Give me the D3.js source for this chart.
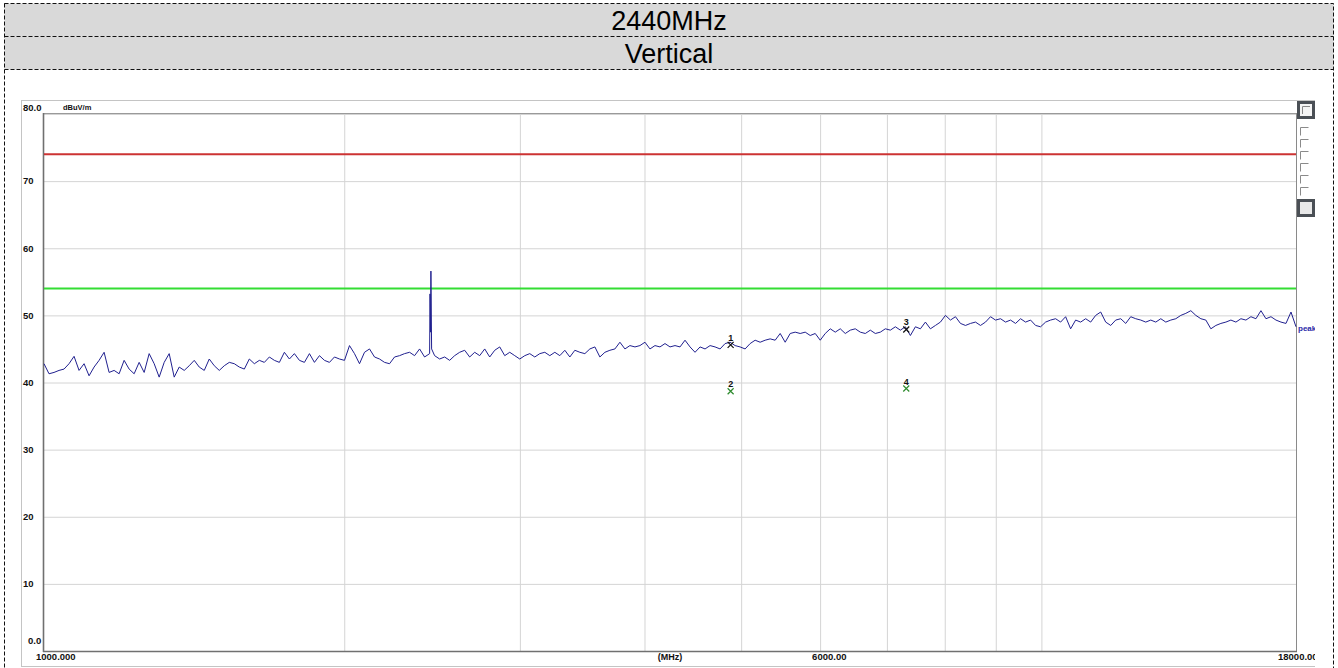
<!DOCTYPE html>
<html>
<head>
<meta charset="utf-8">
<script src="https://cdn.jsdelivr.net/npm/d3@7"></script>
<style>
  body { margin: 0; background: #fff; }
  text { font-family: "Liberation Sans", Arial, sans-serif; }
</style>
</head>
<body>
<svg id="chart" width="1338" height="668"></svg>
<script>
// ---- data ----
const titleRows = ['2440MHz', 'Vertical']
const yUnit = 'dBuV/m'
const xUnit = '(MHz)'
const yTickValues = [80, 70, 60, 50, 40, 30, 20, 10, 0]
const yTickLabels = ['80.0', '70', '60', '50', '40', '30', '20', '10', '0.0']
const xGridValues = [2000, 3000, 4000, 5000, 6000, 7000, 8000, 9000, 10000]
const xTickValues = [1000, 6000, 18000]
const xTickLabels = ['1000.000', '6000.00', '18000.00']
const limitNames = ['limit', 'average']
const limitLevels = [74, 54]
const traceName = 'peak'
// trace levels (dBuV/m), read at evenly spaced points along the log axis 1000 -> 18000 MHz
const traceLevels = [
  42.8, 41.3, 41.5, 41.8, 42.0, 42.8, 43.9, 41.8, 42.8, 41.0,
  42.3, 43.3, 44.5, 41.5, 41.8, 41.3, 43.3, 42.0, 41.3, 43.0,
  41.5, 44.3, 42.8, 40.8, 43.0, 44.3, 40.8, 42.3, 41.8, 42.5,
  43.3, 42.3, 41.8, 43.5, 42.5, 41.8, 42.5, 43.0, 42.8, 42.3,
  42.0, 43.5, 42.8, 43.3, 43.0, 43.8, 43.3, 43.0, 44.5, 43.5,
  44.3, 43.3, 43.0, 44.3, 43.0, 44.0, 43.3, 43.0, 43.8, 43.5,
  43.3, 45.5, 44.3, 42.8, 44.5, 45.0, 43.8, 43.5, 43.0, 42.8,
  43.8, 44.0, 44.3, 44.5, 44.0, 45.0, 43.8, 44.3, 44.0, 43.5,
  43.8, 43.3, 44.0, 44.5, 44.8, 43.8, 44.5, 44.0, 45.0, 43.8,
  44.8, 45.3, 44.0, 44.5, 44.0, 43.5, 44.0, 44.3, 43.8, 44.3,
  44.5, 44.0, 44.5, 44.0, 44.8, 43.8, 44.8, 44.5, 44.3, 45.0,
  45.3, 43.8, 44.5, 44.8, 45.0, 46.0, 45.0, 45.5, 45.3, 45.5,
  46.0, 45.0, 45.5, 45.3, 45.8, 45.3, 45.5, 45.3, 46.3, 45.3,
  44.5, 45.3, 45.0, 45.5, 45.3, 45.0, 45.8, 46.0, 45.5, 45.3,
  45.0, 45.8, 46.3, 46.0, 46.3, 46.5, 46.3, 47.3, 46.0, 47.3,
  47.5, 47.3, 47.5, 47.0, 47.3, 46.3, 47.3, 48.0, 47.5, 48.0,
  47.3, 47.8, 48.0, 47.5, 47.3, 47.8, 47.3, 47.5, 48.0, 47.8,
  48.3, 47.8, 48.3, 47.0, 48.3, 48.0, 49.0, 48.0, 48.5, 49.0,
  50.0, 49.3, 49.8, 48.8, 48.5, 48.8, 49.0, 48.5, 49.0, 49.8,
  49.3, 49.5, 49.0, 49.3, 48.8, 49.5, 49.0, 49.3, 48.5, 48.3,
  49.0, 49.3, 49.5, 49.0, 49.8, 48.0, 49.3, 49.0, 49.5, 49.0,
  50.0, 50.5, 49.0, 48.5, 49.3, 49.5, 48.8, 49.8, 49.5, 49.3,
  49.0, 49.3, 49.0, 49.5, 49.0, 49.3, 49.5, 50.0, 50.3, 50.7,
  50.0, 49.5, 49.3, 48.0, 48.5, 48.8, 49.0, 49.3, 49.0, 49.5,
  49.3, 49.8, 49.5, 50.7, 49.5, 49.8, 49.3, 49.0, 48.8, 50.5,
  48.3
]
// fundamental spike
const spikeFreqs = [2438, 2441, 2443, 2447]
const spikeLevels = [53.2, 47.5, 56.6, 45.0]
// markers
const markerNums = [1, 2, 3, 4]
const markerFreqs = [4880, 4880, 7320, 7320]
const markerLevels = [45.6, 38.7, 47.9, 39.1]
const markerKinds = ['peak', 'avg', 'peak', 'avg']

// ---- layout ----
const svg = d3.select('#chart')
const plot = { left: 44, right: 1296, top: 114, bottom: 651 }
const boxRight = 1315

const x = d3.scaleLog().domain([1000, 18000]).range([plot.left, plot.right])
const y = d3.scaleLinear().domain([0, 80]).range([plot.bottom, plot.top])

const limitColor = { limit: '#cc3333', average: '#33dd33' }
const markerColor = { peak: '#111', avg: '#2e8b2e' }

// header rows
const rowH = 33
svg.selectAll('.hdr')
  .data(titleRows)
  .join('rect')
  .attr('x', 4.5).attr('y', (d, i) => 3.5 + i * rowH)
  .attr('width', 1329).attr('height', rowH)
  .attr('fill', '#d9d9d9')

svg.selectAll('.hdrText')
  .data(titleRows)
  .join('text')
  .attr('x', 669).attr('y', (d, i) => 3.5 + i * rowH + rowH / 2)
  .attr('dy', '0.36em')
  .attr('text-anchor', 'middle')
  .style('font-size', '27px')
  .style('fill', '#000')
  .text(d => d)

// outer dashed frame
const dash = '4,2'
svg.append('rect')
  .attr('x', 4.5).attr('y', 3.5).attr('width', 1329).attr('height', 680)
  .attr('fill', 'none').attr('stroke', '#111').attr('stroke-dasharray', dash)
titleRows.forEach((d, i) => {
  svg.append('line')
    .attr('x1', 4.5).attr('x2', 1333.5)
    .attr('y1', 3.5 + (i + 1) * rowH).attr('y2', 3.5 + (i + 1) * rowH)
    .attr('stroke', '#111').attr('stroke-dasharray', dash)
})

// picture box
svg.append('defs').append('clipPath').attr('id', 'boxClip')
  .append('rect').attr('x', 21).attr('y', 100).attr('width', boxRight - 21).attr('height', 568)
const box = svg.append('g').attr('clip-path', 'url(#boxClip)')
box.append('rect')
  .attr('x', 21.5).attr('y', 100.5).attr('width', boxRight - 21).attr('height', 566)
  .attr('fill', '#fff').attr('stroke', '#c4c4c4')

// grid
const yGrid = d3.axisLeft(y).tickValues(yTickValues).tickSize(-(plot.right - plot.left)).tickFormat('')
box.append('g')
  .attr('transform', `translate(${plot.left},0)`)
  .call(yGrid)
  .call(g => g.select('.domain').remove())
  .call(g => g.selectAll('.tick line').attr('stroke', '#d4d4d4'))

const xGrid = d3.axisBottom(x).tickValues(xGridValues).tickSize(-(plot.bottom - plot.top)).tickFormat('')
box.append('g')
  .attr('transform', `translate(0,${plot.bottom})`)
  .call(xGrid)
  .call(g => g.select('.domain').remove())
  .call(g => g.selectAll('.tick line').attr('stroke', '#d4d4d4'))

// plot frame
box.append('line').attr('x1', plot.left).attr('x2', plot.right).attr('y1', plot.top - 0.5).attr('y2', plot.top - 0.5)
  .attr('stroke', '#9a9a9a')
box.append('line').attr('x1', plot.right + 0.5).attr('x2', plot.right + 0.5).attr('y1', plot.top - 1).attr('y2', plot.bottom)
  .attr('stroke', '#8a8a8a')
box.append('line').attr('x1', plot.left - 0.5).attr('x2', plot.left - 0.5).attr('y1', plot.top - 1).attr('y2', plot.bottom + 1)
  .attr('stroke', '#707070').attr('stroke-width', 1.6)
box.append('line').attr('x1', plot.left - 1).attr('x2', plot.right + 1).attr('y1', plot.bottom + 0.5).attr('y2', plot.bottom + 0.5)
  .attr('stroke', '#707070').attr('stroke-width', 1.6)

// y labels
box.selectAll('.ylab')
  .data(yTickValues)
  .join('text')
  .attr('x', (d, i) => i === yTickValues.length - 1 ? 28 : 23)
  .attr('y', (d, i) => y(d) + (i === 0 ? -6 : i === yTickValues.length - 1 ? -10 : 0))
  .attr('dy', '0.35em')
  .style('font-size', '9.5px').style('font-weight', 'bold').style('fill', '#111')
  .text((d, i) => yTickLabels[i])

box.append('text')
  .attr('x', 63).attr('y', 110)
  .style('font-size', '7.5px').style('font-weight', 'bold').style('fill', '#111')
  .text(yUnit)

// x labels
box.selectAll('.xlab')
  .data(xTickValues)
  .join('text')
  .attr('x', (d, i) => x(d) + (i === xTickValues.length - 1 ? -18 : -8))
  .attr('y', 657).attr('dy', '0.35em')
  .style('font-size', '9.5px').style('font-weight', 'bold').style('fill', '#111')
  .text((d, i) => xTickLabels[i])

box.append('text')
  .attr('x', (plot.left + plot.right) / 2).attr('y', 656.5).attr('dy', '0.35em')
  .attr('text-anchor', 'middle')
  .style('font-size', '9px').style('font-weight', 'bold').style('fill', '#111')
  .text(xUnit)

// limit lines
box.selectAll('.limit')
  .data(limitLevels)
  .join('line')
  .attr('x1', plot.left).attr('x2', plot.right)
  .attr('y1', d => y(d)).attr('y2', d => y(d))
  .attr('stroke', (d, i) => limitColor[limitNames[i]])
  .attr('stroke-width', 2)

// trace
const step = (plot.right - plot.left) / (traceLevels.length - 1)
const tracePoints = traceLevels.map((v, i) => ({ f: x.invert(plot.left + i * step), v }))
  .concat(spikeFreqs.map((f, i) => ({ f, v: spikeLevels[i] })))
  .sort((a, b) => a.f - b.f)

const line = d3.line().x(d => x(d.f)).y(d => y(d.v))
box.append('path')
  .datum(tracePoints)
  .attr('d', line)
  .attr('fill', 'none')
  .attr('stroke', '#20208f')
  .attr('stroke-width', 1)

box.append('text')
  .attr('x', plot.right + 2).attr('y', y(traceLevels[traceLevels.length - 1]) + 1).attr('dy', '0.35em')
  .style('font-size', '8px').style('font-weight', 'bold').style('fill', '#2a2aa8')
  .text(traceName)

// markers
const mk = box.selectAll('.marker')
  .data(markerNums)
  .join('g')
  .attr('transform', (d, i) => `translate(${x(markerFreqs[i])},${y(markerLevels[i])})`)
mk.append('path')
  .attr('d', 'M-3,-3L3,3M-3,3L3,-3')
  .attr('stroke', (d, i) => markerColor[markerKinds[i]])
  .attr('stroke-width', 1.2)
mk.append('text')
  .attr('x', 0).attr('y', -4)
  .attr('text-anchor', 'middle')
  .style('font-size', '9px').style('font-weight', 'bold').style('fill', '#111')
  .text(d => d)

// side controls
const side = box.append('g')
side.append('rect').attr('x', 1298.5).attr('y', 102.5).attr('width', 15).attr('height', 15)
  .attr('fill', '#f4f4f4').attr('stroke', '#4a4f55').attr('stroke-width', 3)
side.append('path').attr('d', 'M1302.5,114V106.5H1310').attr('fill', 'none').attr('stroke', '#888')
d3.range(6).forEach(i => {
  const yy = 127.5 + i * 12
  side.append('path').attr('d', `M1300.5,${yy + 8}V${yy}H1308.5`).attr('fill', 'none').attr('stroke', '#8a8a8a')
})
side.append('rect').attr('x', 1298.5).attr('y', 200.5).attr('width', 15).attr('height', 15)
  .attr('fill', '#e8e8e8').attr('stroke', '#4a4f55').attr('stroke-width', 3)
</script>
</body>
</html>
